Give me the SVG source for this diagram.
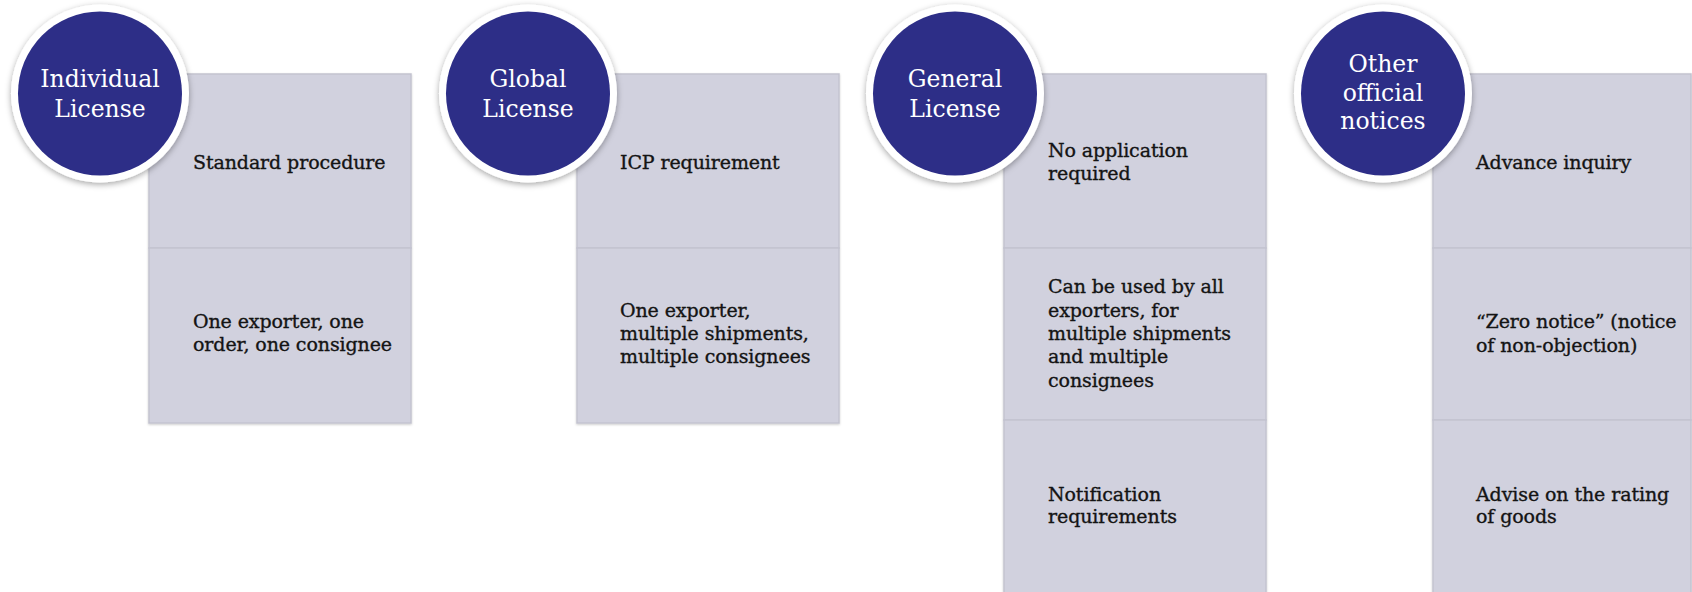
<svg xmlns="http://www.w3.org/2000/svg" width="1692" height="592" viewBox="0 0 1692 592">
  <defs>
    <filter id="shadow" x="-20%" y="-20%" width="140%" height="140%">
      <feDropShadow dx="0" dy="2" stdDeviation="3" flood-color="#000" flood-opacity="0.35"/>
    </filter>
    <filter id="boxshadow" x="-5%" y="-5%" width="110%" height="110%">
      <feDropShadow dx="0" dy="1" stdDeviation="1" flood-color="#000" flood-opacity="0.2"/>
    </filter>
  </defs>
  <style>
    .row { fill: #d1d1de; stroke: #c3c3d0; stroke-width: 1.5; }
    .ring { fill: #ffffff; filter: url(#shadow); }
    .disc { fill: #2d2e87; }
    .ctext { font-family: "DejaVu Serif", "Liberation Serif", serif; font-size: 23.5px; fill: #ffffff; text-anchor: middle; }
    .btext { font-family: "DejaVu Serif", "Liberation Serif", serif; font-size: 19px; letter-spacing: -0.1px; fill: #141414; stroke: #141414; stroke-width: 0.35px; }
  </style>
  <rect width="1692" height="592" fill="#ffffff"/>

  <g id="individual-license">
    <g filter="url(#boxshadow)">
      <rect class="row" x="149" y="74" width="262" height="174"/>
      <rect class="row" x="149" y="248" width="262" height="175"/>
    </g>
    <text class="btext" x="193" y="169">Standard procedure</text>
    <text class="btext" x="193" y="328">One exporter, one</text>
    <text class="btext" x="193" y="351">order, one consignee</text>
    <circle class="ring" cx="100" cy="93.5" r="89"/>
    <circle class="disc" cx="100" cy="93.5" r="82"/>
    <text class="ctext" x="100" y="87">Individual</text>
    <text class="ctext" x="100" y="117">License</text>
  </g>

  <g id="global-license">
    <g filter="url(#boxshadow)">
      <rect class="row" x="577" y="74" width="262" height="174"/>
      <rect class="row" x="577" y="248" width="262" height="175"/>
    </g>
    <text class="btext" x="620" y="169">ICP requirement</text>
    <text class="btext" x="620" y="317">One exporter,</text>
    <text class="btext" x="620" y="340">multiple shipments,</text>
    <text class="btext" x="620" y="363">multiple consignees</text>
    <circle class="ring" cx="528" cy="93.5" r="89"/>
    <circle class="disc" cx="528" cy="93.5" r="82"/>
    <text class="ctext" x="528" y="87">Global</text>
    <text class="ctext" x="528" y="117">License</text>
  </g>

  <g id="general-license">
    <g filter="url(#boxshadow)">
      <rect class="row" x="1004" y="74" width="262" height="174"/>
      <rect class="row" x="1004" y="248" width="262" height="172"/>
      <rect class="row" x="1004" y="420" width="262" height="178"/>
    </g>
    <text class="btext" x="1048" y="157">No application</text>
    <text class="btext" x="1048" y="180">required</text>
    <text class="btext" x="1048" y="293">Can be used by all</text>
    <text class="btext" x="1048" y="317">exporters, for</text>
    <text class="btext" x="1048" y="340">multiple shipments</text>
    <text class="btext" x="1048" y="363">and multiple</text>
    <text class="btext" x="1048" y="387">consignees</text>
    <text class="btext" x="1048" y="501">Notification</text>
    <text class="btext" x="1048" y="523">requirements</text>
    <circle class="ring" cx="955" cy="93.5" r="89"/>
    <circle class="disc" cx="955" cy="93.5" r="82"/>
    <text class="ctext" x="955" y="87">General</text>
    <text class="ctext" x="955" y="117">License</text>
  </g>

  <g id="other-official-notices">
    <g filter="url(#boxshadow)">
      <rect class="row" x="1433" y="74" width="258" height="174"/>
      <rect class="row" x="1433" y="248" width="258" height="172"/>
      <rect class="row" x="1433" y="420" width="258" height="178"/>
    </g>
    <text class="btext" x="1476" y="169">Advance inquiry</text>
    <text class="btext" x="1476" y="328">“Zero notice” (notice</text>
    <text class="btext" x="1476" y="352">of non-objection)</text>
    <text class="btext" x="1476" y="501">Advise on the rating</text>
    <text class="btext" x="1476" y="523">of goods</text>
    <circle class="ring" cx="1383" cy="93.5" r="89"/>
    <circle class="disc" cx="1383" cy="93.5" r="82"/>
    <text class="ctext" x="1383" y="72">Other</text>
    <text class="ctext" x="1383" y="101">official</text>
    <text class="ctext" x="1383" y="129">notices</text>
  </g>
</svg>
